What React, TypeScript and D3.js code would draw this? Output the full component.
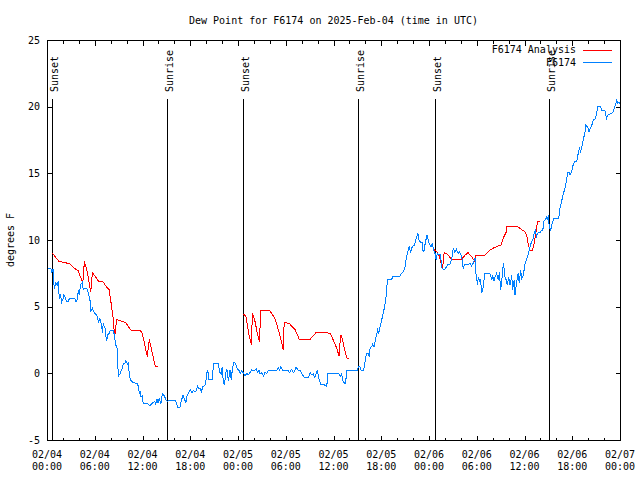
import React from "react";
import * as d3 from "d3";

const TITLE = "Dew Point for F6174 on 2025-Feb-04 (time in UTC)";
const Y_LABEL = "degrees F";
const START_UTC = Date.UTC(2025, 1, 4, 0, 0);
const SPAN_HOURS = 72;
const Y_TICKS = [-5, 0, 5, 10, 15, 20, 25];

// F6174 observations: hours after 02/04 00:00 UTC, dew point °F
const obsHours = [
  0.0, 0.5, 0.6, 0.8, 0.9, 1.1, 1.3, 1.4, 1.55, 1.7, 1.85, 2.0, 2.1, 2.25, 2.5, 2.7, 2.8, 3.5, 3.65, 3.8,
  3.95, 4.05, 4.2, 4.45, 4.55, 4.65, 5.0, 5.2, 5.4, 5.5, 5.7, 5.9, 6.3, 6.45, 6.65, 6.85, 7.0, 7.05, 7.3, 7.4,
  7.5, 7.6, 7.8, 8.0, 8.35, 8.55, 8.7, 8.85, 8.95, 9.2, 9.4, 9.6, 9.8, 9.9, 10.1, 10.2, 10.35, 10.5, 10.8, 11.3,
  11.5, 11.6, 11.7, 11.8, 11.95, 12.1, 12.7, 12.95, 13.15, 13.35, 13.55, 13.65, 13.85, 13.95, 14.1, 14.3, 14.5, 14.75, 14.95, 15.1,
  15.25, 16.1, 16.3, 16.4, 16.7, 16.9, 17.1, 17.3, 17.45, 17.6, 18.0, 18.2, 18.4, 18.6, 18.8, 18.9, 19.1, 19.3, 19.4, 19.55,
  19.85, 20.0, 20.15, 20.3, 20.35, 20.8, 20.9, 21.5, 21.7, 21.95, 22.0, 22.15, 22.3, 22.45, 22.6, 22.8, 23.0, 23.15, 23.3, 23.45,
  23.7, 23.9, 24.15, 24.3, 24.5, 24.75, 24.9, 25.1, 25.3, 25.5, 25.7, 26.0, 26.3, 26.45, 26.65, 26.75, 26.95, 27.2, 27.4, 27.6,
  27.8, 28.85, 29.05, 29.25, 29.4, 29.6, 30.3, 30.5, 30.7, 31.0, 31.3, 31.6, 31.8, 31.95, 32.3, 32.85, 33.05, 33.25, 33.45, 33.65,
  33.95, 34.2, 34.4, 34.75, 34.9, 35.15, 35.3, 36.0, 36.4, 36.7, 36.9, 37.0, 37.25, 37.5, 37.7, 39.05, 39.1, 39.3, 39.45, 39.75,
  39.9, 40.0, 40.15, 40.35, 40.5, 40.6, 40.8, 40.9, 41.1, 41.3, 41.4, 41.55, 41.7, 41.8, 42.05, 42.25, 42.4, 42.55, 42.7, 42.75,
  43.3, 43.5, 44.35, 44.55, 44.75, 45.0, 45.1, 45.3, 45.5, 45.7, 45.9, 46.15, 46.45, 46.6, 46.75, 46.95, 47.15, 47.2, 47.35, 47.55,
  47.75, 47.85, 48.0, 48.25, 48.4, 48.55, 48.65, 48.75, 48.9, 49.05, 49.2, 49.45, 49.6, 49.8, 50.0, 50.2, 50.4, 50.6, 50.85, 51.05,
  51.25, 51.45, 51.65, 51.85, 52.1, 52.3, 52.5, 52.9, 53.15, 53.35, 53.55, 53.8, 53.9, 54.1, 54.2, 54.35, 54.5, 54.6, 54.8, 55.0,
  55.65, 55.9, 56.0, 56.15, 56.3, 56.5, 56.7, 56.85, 57.0, 57.15, 57.35, 57.55, 57.7, 57.85, 58.0, 58.2, 58.4, 58.5, 58.7, 58.8,
  59.0, 59.2, 59.35, 59.5, 59.65, 59.85, 60.05, 60.25, 60.5, 60.6, 60.7, 60.9, 61.1, 61.2, 61.35, 61.5, 61.7, 61.95, 62.15, 62.3,
  62.45, 62.7, 62.8, 62.9, 63.0, 63.1, 63.3, 63.4, 63.55, 63.7, 64.3, 64.45, 64.7, 64.9, 65.1, 65.3, 65.4, 65.6, 65.7, 65.9,
  66.1, 66.35, 66.55, 66.75, 66.9, 67.05, 67.2, 67.4, 67.6, 67.7, 67.95, 68.1, 68.25, 68.45, 68.65, 68.85, 69.05, 69.2, 69.5, 69.7,
  70.1, 70.3, 70.5, 70.95, 71.15, 71.4, 71.6, 71.7, 71.9, 72.0,
];
const obsDewF = [
  7.85, 7.85, 7.6, 7.85, 6.3, 6.75, 6.6, 6.9, 5.6, 5.85, 5.35, 5.55, 5.85, 5.75, 5.35, 5.4, 5.6, 5.6, 5.35, 5.55,
  6.25, 5.85, 6.6, 6.85, 6.25, 6.4, 6.35, 6.0, 5.5, 4.6, 4.9, 4.6, 4.3, 3.85, 4.1, 3.6, 3.0, 3.75, 3.35, 2.75,
  2.45, 2.85, 3.0, 3.25, 3.25, 2.5, 2.0, 1.85, -0.25, 0.0, 0.3, 0.7, 0.75, 0.95, 0.7, 0.75, -0.1, -0.5, -0.7, -0.75,
  -1.0, -1.5, -1.4, -1.75, -1.7, -2.25, -2.3, -2.45, -2.25, -2.2, -2.1, -2.3, -1.9, -2.2, -1.9, -2.3, -1.5, -1.7, -2.0, -2.1,
  -2.05, -2.05, -2.25, -2.55, -2.55, -2.0, -1.65, -1.95, -2.25, -1.65, -1.25, -1.45, -1.3, -1.4, -1.25, -0.95, -1.15, -1.15, -1.45, -1.0,
  -0.9, -0.4, 0.25, -0.1, -0.45, -0.45, 0.75, 0.75, 0.1, -0.1, 0.5, -0.6, -0.9, 0.0, 0.35, -0.6, 0.25, -0.5, 0.35, 0.8,
  0.75, 0.35, 0.2, 0.0, 0.2, -0.05, -0.2, 0.0, -0.1, 0.05, 0.25, 0.2, 0.35, 0.1, 0.25, 0.0, 0.05, -0.2, 0.1, 0.0,
  0.2, 0.2, 0.45, 0.25, 0.5, 0.2, 0.2, 0.05, 0.3, 0.05, 0.45, 0.2, 0.25, 0.05, -0.3, -0.3, 0.05, -0.1, -0.05, -0.3,
  0.2, -0.45, -0.8, -0.8, -0.9, -1.0, 0.0, -0.05, 0.0, -0.05, -0.25, 0.0, -0.7, -0.75, 0.25, 0.25, 0.5, 0.5, 0.25, 0.2,
  0.5, 1.05, 1.5, 1.5, 1.25, 1.9, 2.0, 2.2, 2.0, 2.6, 2.85, 3.25, 3.0, 3.35, 4.0, 4.5, 4.95, 5.5, 6.25, 7.05,
  7.05, 7.3, 7.3, 7.5, 7.6, 8.0, 8.5, 9.0, 9.5, 9.1, 9.5, 9.6, 10.25, 10.5, 10.0, 9.8, 9.8, 9.25, 9.1, 9.85,
  10.35, 10.1, 9.8, 9.5, 9.75, 9.4, 9.1, 9.0, 8.5, 9.0, 8.9, 8.9, 7.9, 7.8, 7.8, 8.0, 8.2, 8.15, 8.55, 9.4,
  9.05, 9.3, 9.0, 9.1, 8.75, 7.9, 8.15, 8.15, 8.25, 8.05, 8.25, 8.65, 7.5, 6.6, 7.25, 6.9, 7.0, 6.0, 6.4, 7.5,
  7.5, 7.0, 7.35, 6.9, 7.25, 7.5, 7.0, 7.6, 6.25, 7.0, 8.25, 7.25, 7.0, 6.6, 7.25, 6.6, 7.35, 6.25, 7.0, 5.85,
  6.75, 7.5, 6.75, 7.75, 7.1, 7.35, 8.15, 8.5, 9.0, 9.3, 9.5, 9.9, 10.1, 10.5, 10.75, 10.25, 10.55, 10.55, 10.75, 10.75,
  11.4, 11.6, 11.8, 11.5, 11.9, 11.0, 10.75, 11.1, 11.35, 11.6, 11.6, 12.4, 13.0, 13.5, 13.9, 14.5, 15.1, 15.1, 14.9, 15.1,
  15.6, 15.9, 15.85, 16.5, 16.9, 16.65, 17.0, 17.55, 18.1, 18.6, 18.45, 18.1, 18.35, 18.6, 19.0, 19.05, 19.4, 20.05, 20.05, 19.75,
  19.75, 19.1, 19.4, 19.5, 19.6, 20.1, 20.5, 20.25, 20.3, 20.25,
];

// F6174 Analysis: three separate runs
const anaHours1 = [0.6, 1.5, 2.3, 2.9, 3.5, 3.9, 4.5, 4.7, 5.1, 5.5, 5.7, 6.5, 7.0, 7.5, 7.8, 8.0, 8.3, 8.5, 8.75, 9.4, 9.9, 10.5, 11.7, 11.9, 12.2, 12.6, 12.85, 13.2, 13.6, 13.9];
const anaDewF1 = [9.07, 8.4, 8.3, 8.2, 7.85, 7.7, 6.8, 8.4, 7.5, 6.1, 7.55, 6.9, 6.9, 6.45, 6.3, 5.5, 4.2, 2.75, 4.05, 3.9, 3.8, 3.25, 3.2, 3.1, 2.4, 1.25, 2.55, 1.6, 0.55, 0.55];
const anaHours2 = [24.7, 25.0, 25.4, 25.7, 25.8, 26.1, 26.4, 26.7, 26.85, 28.0, 28.65, 29.2, 29.7, 29.8, 30.5, 31.2, 31.7, 33.05, 33.8, 35.1, 35.6, 36.4, 36.7, 36.9, 37.1, 37.4, 37.7, 37.95];
const anaDewF2 = [4.45, 4.25, 2.85, 2.1, 4.5, 4.0, 3.1, 2.35, 4.7, 4.7, 4.1, 3.0, 1.75, 3.85, 3.7, 3.25, 2.55, 2.55, 3.05, 3.05, 3.0, 1.9, 1.3, 2.9, 2.6, 1.75, 1.15, 1.15];
const anaHours3 = [48.6, 49.0, 49.3, 49.7, 49.9, 50.2, 50.85, 52.1, 52.5, 52.9, 53.35, 53.8, 53.85, 55.0, 55.7, 56.1, 56.7, 57.1, 57.3, 57.7, 57.8, 59.0, 59.6, 60.1, 60.3, 60.5, 60.7, 61.0, 61.2, 61.4, 61.65, 62.0];
const anaDewF3 = [9.3, 9.1, 8.8, 7.8, 9.05, 9.0, 8.55, 8.55, 8.85, 9.05, 8.75, 8.35, 8.85, 8.85, 9.25, 9.4, 9.55, 9.65, 10.1, 10.6, 11.05, 11.05, 10.8, 10.6, 10.25, 9.6, 9.25, 9.2, 9.7, 10.45, 11.4, 11.4];

// Sun events: hours after start
const sunHours = [0.58, 15.03, 24.66, 39.1, 48.75, 63.1];
const sunLabels = ["Sunset", "Sunrise", "Sunset", "Sunrise", "Sunset", "Sunrise"];

const legendNames = ["F6174 Analysis", "F6174"];
const RED = "#ff0000";
const BLUE = "#0080ff";

const FONT = "'DejaVu Sans Mono', 'Liberation Mono', monospace";

const W = 640, H = 480;
const M = { left: 47, right: 620, top: 40, bottom: 440 };

const toDate = (h: number) => new Date(START_UTC + h * 3600e3);

export default function App() {
  const x = d3.scaleUtc().domain([toDate(0), toDate(SPAN_HOURS)]).range([M.left, M.right]);
  const y = d3.scaleLinear().domain([-5, 25]).range([M.bottom, M.top]);

  const line = d3
    .line<[number, number]>()
    .x((d) => x(toDate(d[0])))
    .y((d) => y(d[1]));

  const obs = obsHours.map((h, i) => [h, obsDewF[i]] as [number, number]);
  const anaRuns = [
    anaHours1.map((h, i) => [h, anaDewF1[i]] as [number, number]),
    anaHours2.map((h, i) => [h, anaDewF2[i]] as [number, number]),
    anaHours3.map((h, i) => [h, anaDewF3[i]] as [number, number]),
  ];

  const majorTicks = x.ticks(d3.utcHour.every(6)!);
  const minorTicks = x.ticks(d3.utcHour.every(2)!).filter((d) => d.getUTCHours() % 6 !== 0);
  const fmtDay = d3.utcFormat("%m/%d");
  const fmtTime = d3.utcFormat("%H:%M");

  const px = (v: number) => Math.round(v) + 0.5;

  return (
    <svg
      width={W}
      height={H}
      style={{ position: "absolute", left: 0, top: 0, background: "#fff" }}
      fontFamily={FONT}
      fontSize={10}
    >
      <rect x={0} y={0} width={W} height={H} fill="#fff" />
      <text x={(M.left + M.right) / 2} y={24} textAnchor="middle" fill="#000">
        {TITLE}
      </text>

      {/* y label */}
      <text
        transform={`translate(14, ${(M.top + M.bottom) / 2}) rotate(-90)`}
        textAnchor="middle"
        fill="#000"
      >
        {Y_LABEL}
      </text>

      {/* ticks */}
      <g shapeRendering="crispEdges" stroke="#000">
        {Y_TICKS.map((t) => (
          <g key={t}>
            <line x1={px(M.left)} x2={px(M.left) + 5} y1={px(y(t))} y2={px(y(t))} />
            <line x1={px(M.right) - 5} x2={px(M.right)} y1={px(y(t))} y2={px(y(t))} />
          </g>
        ))}
        {majorTicks.map((d, i) => (
          <g key={"M" + i}>
            <line x1={px(x(d))} x2={px(x(d))} y1={px(M.bottom)} y2={px(M.bottom) - 5} />
            <line x1={px(x(d))} x2={px(x(d))} y1={px(M.top)} y2={px(M.top) + 5} />
          </g>
        ))}
        {minorTicks.map((d, i) => (
          <g key={"m" + i}>
            <line x1={px(x(d))} x2={px(x(d))} y1={px(M.bottom)} y2={px(M.bottom) - 3} />
            <line x1={px(x(d))} x2={px(x(d))} y1={px(M.top)} y2={px(M.top) + 3} />
          </g>
        ))}
      </g>
      {Y_TICKS.map((t) => (
        <text key={"yl" + t} x={40} y={y(t) + 3.5} textAnchor="end" fill="#000">
          {t}
        </text>
      ))}
      {majorTicks.map((d, i) => (
        <g key={"xl" + i}>
          <text x={x(d)} y={458} textAnchor="middle" fill="#000">
            {fmtDay(d)}
          </text>
          <text x={x(d)} y={470} textAnchor="middle" fill="#000">
            {fmtTime(d)}
          </text>
        </g>
      ))}

      {/* sunrise / sunset markers */}
      {sunHours.map((h, i) => {
        const sx = px(x(toDate(h)));
        return (
          <g key={"s" + i}>
            <line x1={sx} x2={sx} y1={99} y2={M.bottom} stroke="#000" shapeRendering="crispEdges" />
            <text transform={`translate(${sx + 5}, 92) rotate(-90)`} textAnchor="start" fill="#000">
              {sunLabels[i]}
            </text>
          </g>
        );
      })}

      {/* data */}
      {anaRuns.map((run, i) => (
        <path
          key={"a" + i}
          d={line(run) || ""}
          fill="none"
          stroke={RED}
          strokeWidth={1}
          shapeRendering="crispEdges"
        />
      ))}
      <path d={line(obs) || ""} fill="none" stroke={BLUE} strokeWidth={1} shapeRendering="crispEdges" />

      {/* legend */}
      {legendNames.map((name, i) => {
        const ly = 49.5 + i * 12.5;
        return (
          <g key={"lg" + i}>
            <text x={576} y={ly + 3.5} textAnchor="end" fill="#000">
              {name}
            </text>
            <line
              x1={583}
              x2={612}
              y1={Math.round(ly) + 0.5}
              y2={Math.round(ly) + 0.5}
              stroke={i === 0 ? RED : BLUE}
              shapeRendering="crispEdges"
            />
          </g>
        );
      })}

      {/* border */}
      <rect
        x={px(M.left)}
        y={px(M.top)}
        width={Math.round(M.right) - Math.round(M.left)}
        height={Math.round(M.bottom) - Math.round(M.top)}
        fill="none"
        stroke="#000"
        shapeRendering="crispEdges"
      />
    </svg>
  );
}
